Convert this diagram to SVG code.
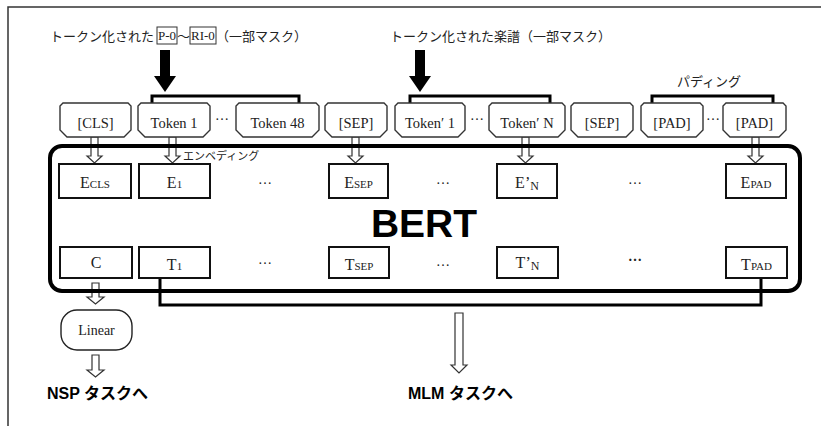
<svg xmlns="http://www.w3.org/2000/svg" width="821" height="426" viewBox="0 0 821 426">
<style>
.jp{font-family:"Noto Sans CJK JP","Noto Sans",sans-serif;fill:#222}
.se{font-family:"Liberation Serif","Times New Roman",serif;fill:#222}
.tok{fill:#fff;stroke:#333;stroke-width:1.4}
.box{fill:#fff;stroke:#111;stroke-width:2}
.hol{fill:#fff;stroke:#333;stroke-width:1.2}
.brk{fill:none;stroke:#000;stroke-width:3}
.bold{font-family:"Liberation Sans","Noto Sans CJK JP",sans-serif;font-weight:bold;fill:#000}
</style>
<rect width="821" height="426" fill="#fff"/>
<path d="M8 426 V7 H821" fill="none" stroke="#333" stroke-width="1.5"/>

<!-- titles -->
<g id="title1">
<text class="jp" x="50" y="41" font-size="13">トークン化された</text>
<rect x="157" y="27" width="20" height="17" fill="none" stroke="#333" stroke-width="1"/>
<text class="se" x="158" y="40" font-size="13">P-0</text>
<text class="jp" x="177" y="41" font-size="13">～</text>
<rect x="190" y="27" width="26" height="17" fill="none" stroke="#333" stroke-width="1"/>
<text class="se" x="191" y="40" font-size="13">RI-0</text>
<text class="jp" x="216" y="41" font-size="13">（一部マスク）</text>
</g>
<g id="title2"><text class="jp" x="390" y="41" font-size="13">トークン化された楽譜（一部マスク）</text></g>
<g id="padding-label"><text class="jp" x="677" y="86" font-size="13">パディング</text></g>

<g id="connectors">
<path d="M160 50 H170 V76 H176 L165 92 L154 76 H160 Z" fill="#000"/>
<path d="M415 50 H425 V76 H431 L420 92 L409 76 H415 Z" fill="#000"/>
<path class="brk" d="M152 104 V96 H299 V104"/>
<path class="brk" d="M410 104 V96 H550 V104"/>
<path class="brk" d="M652 104 V96 H773 V104"/>
<path class="hol" d="M91 137 V156 H87 L94.5 163 L102 156 H98 V137 Z"/>
<path class="hol" d="M169 137 V156 H165 L172.5 163 L180 156 H176 V137 Z"/>
<path class="hol" d="M352 137 V156 H348 L355.5 163 L363 156 H359 V137 Z"/>
<path class="hol" d="M522 137 V156 H518 L525.5 163 L533 156 H529 V137 Z"/>
<path class="hol" d="M752 137 V156 H748 L755.5 163 L763 156 H759 V137 Z"/>
<path class="brk" d="M160 278 V305 H761 V278"/>
<path class="hol" d="M92 283 V297 H87 L95.5 304 L104 297 H99 V283 Z"/>
<path class="hol" d="M92 355 V370 H87 L95.5 377 L104 370 H99 V355 Z"/>
<path class="hol" d="M455 313 V365 H451 L459 373 L467 365 H463 V313 Z"/>
</g>

<g id="tok-cls"><polygon class="tok" points="63,103 128,103 131,106 131,130 124,137 67,137 60,130 60,106"/><text class="se" x="95.5" y="128" font-size="14.5" text-anchor="middle">[CLS]</text></g>
<g id="tok-1"><polygon class="tok" points="141,103 207,103 210,106 210,130 203,137 145,137 138,130 138,106"/><text class="se" x="174" y="128" font-size="14.5" text-anchor="middle">Token 1</text></g>
<g id="tok-48"><polygon class="tok" points="239,103 316,103 319,106 319,130 312,137 243,137 236,130 236,106"/><text class="se" x="277.5" y="128" font-size="14.5" text-anchor="middle">Token 48</text></g>
<g id="tok-sep1"><polygon class="tok" points="328,103 384,103 387,106 387,130 380,137 332,137 325,130 325,106"/><text class="se" x="356" y="128" font-size="14.5" text-anchor="middle">[SEP]</text></g>
<g id="tok-p1"><polygon class="tok" points="398,103 462,103 465,106 465,130 458,137 402,137 395,130 395,106"/><text class="se" x="430" y="128" font-size="14.5" text-anchor="middle">Token′ 1</text></g>
<g id="tok-pn"><polygon class="tok" points="492,103 562,103 565,106 565,130 558,137 496,137 489,130 489,106"/><text class="se" x="527" y="128" font-size="14.5" text-anchor="middle">Token′ N</text></g>
<g id="tok-sep2"><polygon class="tok" points="574,103 630,103 633,106 633,130 626,137 578,137 571,130 571,106"/><text class="se" x="602" y="128" font-size="14.5" text-anchor="middle">[SEP]</text></g>
<g id="tok-pad1"><polygon class="tok" points="644,103 700,103 703,106 703,130 696,137 648,137 641,130 641,106"/><text class="se" x="672" y="128" font-size="14.5" text-anchor="middle">[PAD]</text></g>
<g id="tok-pad2"><polygon class="tok" points="726,103 783,103 786,106 786,130 779,137 730,137 723,130 723,106"/><text class="se" x="754.5" y="128" font-size="14.5" text-anchor="middle">[PAD]</text></g>
<g id="tok-dots" class="se" font-size="14">
<text x="222" y="120" text-anchor="middle">…</text>
<text x="477" y="120" text-anchor="middle">…</text>
<text x="713" y="120" text-anchor="middle">…</text>
</g>

<g id="bert">
<rect x="50" y="146" width="750" height="145" rx="12" fill="none" stroke="#000" stroke-width="4"/>
<text class="bold" x="424" y="237" font-size="39" text-anchor="middle">BERT</text>
<text class="jp" x="183" y="160" font-size="11">エンベディング</text>
</g>

<g id="e-cls"><rect class="box" x="59" y="164" width="72" height="34"/><text class="se" x="95" y="188" font-size="16" text-anchor="middle">E<tspan font-size="11">CLS</tspan></text></g>
<g id="e-1"><rect class="box" x="139" y="164" width="71" height="34"/><text class="se" x="174.5" y="188" font-size="16" text-anchor="middle">E<tspan font-size="11">1</tspan></text></g>
<g id="e-sep"><rect class="box" x="329" y="164" width="59" height="34"/><text class="se" x="358.5" y="188" font-size="16" text-anchor="middle">E<tspan font-size="11">SEP</tspan></text></g>
<g id="e-pn"><rect class="box" x="497" y="164" width="60" height="34"/><text class="se" x="527" y="188" font-size="16" text-anchor="middle">E’<tspan font-size="12" dy="2">N</tspan></text></g>
<g id="e-pad"><rect class="box" x="726" y="164" width="60" height="34"/><text class="se" x="756" y="188" font-size="16" text-anchor="middle">E<tspan font-size="11">PAD</tspan></text></g>

<g id="t-c"><rect class="box" x="60" y="247" width="72" height="31"/><text class="se" x="96" y="268" font-size="16" text-anchor="middle">C</text></g>
<g id="t-1"><rect class="box" x="139" y="247" width="71" height="31"/><text class="se" x="174.5" y="270" font-size="16" text-anchor="middle">T<tspan font-size="11">1</tspan></text></g>
<g id="t-sep"><rect class="box" x="329" y="247" width="60" height="31"/><text class="se" x="359" y="270" font-size="16" text-anchor="middle">T<tspan font-size="11">SEP</tspan></text></g>
<g id="t-pn"><rect class="box" x="497" y="247" width="61" height="31"/><text class="se" x="527.5" y="268" font-size="16" text-anchor="middle">T’<tspan font-size="12" dy="2">N</tspan></text></g>
<g id="t-pad"><rect class="box" x="726" y="247" width="61" height="31"/><text class="se" x="756.5" y="270" font-size="16" text-anchor="middle">T<tspan font-size="11">PAD</tspan></text></g>

<g id="row-dots" class="se" font-size="14">
<text x="265" y="184" text-anchor="middle">…</text>
<text x="443" y="184" text-anchor="middle">…</text>
<text x="635" y="184" text-anchor="middle">…</text>
<text x="265" y="264" text-anchor="middle">…</text>
<text x="443" y="266" text-anchor="middle">…</text>
<text x="635" y="261" text-anchor="middle" font-weight="bold">…</text>
</g>

<g id="linear"><rect x="61" y="310" width="71" height="40" rx="16" fill="#fff" stroke="#222" stroke-width="1.4"/><text class="se" x="96.5" y="335" font-size="14" text-anchor="middle">Linear</text></g>
<g id="nsp"><text class="bold" x="47" y="399" font-size="16">NSP タスクへ</text></g>
<g id="mlm"><text class="bold" x="408" y="399" font-size="16">MLM タスクへ</text></g>
</svg>
